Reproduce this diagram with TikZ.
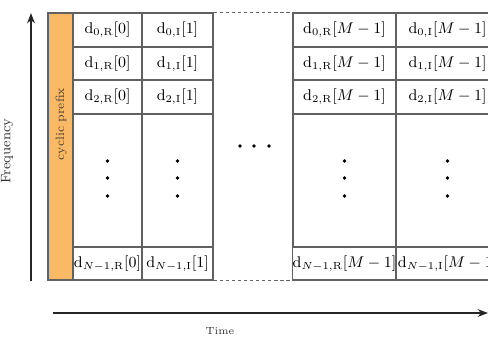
\documentclass[tikz,border=0pt]{standalone}
\usetikzlibrary{arrows.meta}
\definecolor{cporange}{HTML}{FAB964}
\begin{document}
\begin{tikzpicture}[x=0.58pt,y=-0.58pt,
  gridline/.style={draw=black!62,line width=0.85pt},
  cell/.style={gridline,rectangle,inner sep=0pt,font=\fontsize{8.7}{10}\selectfont},
  axis/.style={draw=black!85,line width=0.9pt,-{Stealth[length=6pt,width=4.5pt]}},
  dotmark/.style={circle,fill=black,inner sep=0pt,minimum size=2.2pt},
  gapline/.style={draw=black!60,line width=0.8pt,dash pattern=on 2pt off 1.5pt},
  axislabel/.style={text=black!80}]
\useasboundingbox (0,0) rectangle (488,339);

% cyclic prefix
\node[draw=black!62,line width=0.85pt,fill=cporange,inner sep=0pt,
      minimum width={25*0.58pt},minimum height={267*0.58pt}] (cp) at (60.5,146.5) {};
\node[rotate=90,font=\fontsize{7}{8}\selectfont,text=black!75] (cpl) at (61,124) {cyclic prefix};

% cells
\foreach \col/\cx/\w/\s/\b in {a/107.5/69/R/0, b/177.5/71/I/1, c/344.5/103/R/M-1, d/447.5/103/I/M-1}{
  \node[cell,minimum width={\w*0.58pt},minimum height={34*0.58pt}] (\col0) at (\cx,30)
    {$\mathrm{d}_{0,\mathrm{\s}}[\b]$};
  \node[cell,minimum width={\w*0.58pt},minimum height={33*0.58pt}] (\col1) at (\cx,63.5)
    {$\mathrm{d}_{1,\mathrm{\s}}[\b]$};
  \node[cell,minimum width={\w*0.58pt},minimum height={34*0.58pt}] (\col2) at (\cx,97)
    {$\mathrm{d}_{2,\mathrm{\s}}[\b]$};
  \node[cell,minimum width={\w*0.58pt},minimum height={133*0.58pt}] (\col3) at (\cx,180.5) {};
  \node[cell,minimum width={\w*0.58pt},minimum height={33*0.58pt}] (\col4) at (\cx,263.5)
    {$\mathrm{d}_{N-1,\mathrm{\s}}[\b]$};
  \node[dotmark] (\col-v1) at (\cx,161) {};
  \node[dotmark] (\col-v2) at (\cx,178) {};
  \node[dotmark] (\col-v3) at (\cx,196) {};
}

% gap
\draw[gapline] (b0.north east) -- (c0.north west);
\draw[gapline] (b4.south east) -- (c4.south west);
\node[dotmark] (h1) at (240,146) {};
\node[dotmark] (h2) at (254,146) {};
\node[dotmark] (h3) at (269,146) {};

% axes
\coordinate (f0) at (31,281);
\coordinate (f1) at (31,13);
\draw[axis] (f0) -- (f1);
\node[axislabel,rotate=90,font=\fontsize{8}{10}\selectfont] (flabel) at (7,151) {Frequency};
\coordinate (t0) at (53,313);
\coordinate (t1) at (488,313);
\draw[axis] (t0) -- (t1);
\node[axislabel,font=\fontsize{6}{7}\selectfont] (tlabel) at (220,331) {Time};
\end{tikzpicture}
\end{document}
